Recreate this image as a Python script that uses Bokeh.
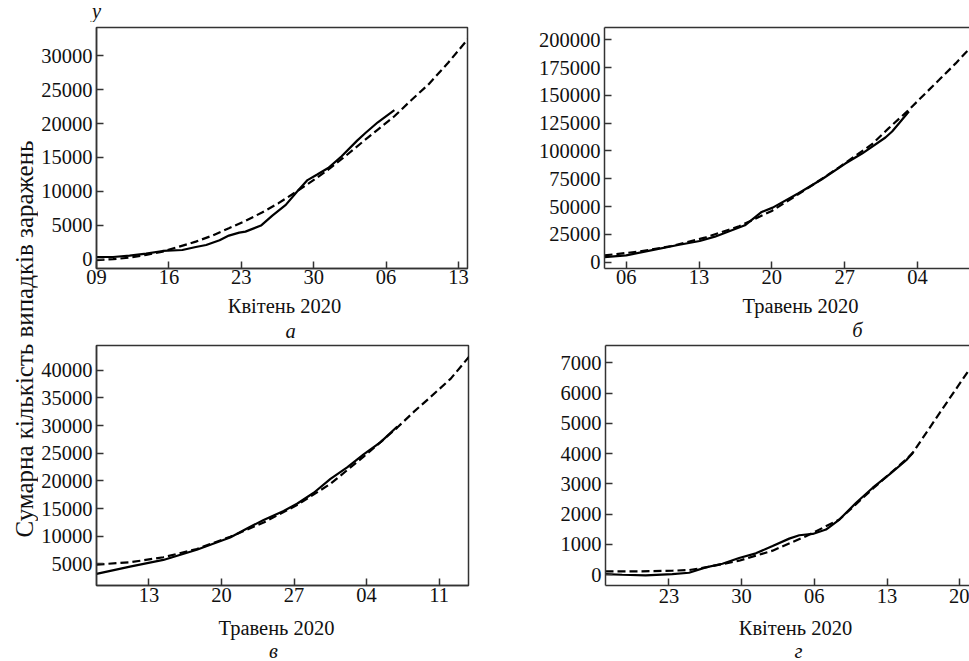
from math import pi
from bokeh.plotting import figure
from bokeh.models import Range1d, FixedTicker, LinearAxis, NumeralTickFormatter
from bokeh.layouts import row, column
from bokeh.embed import file_html
from bokeh.resources import INLINE
from bokeh.core.properties import value

FONT = "Liberation Serif"
INK = "#111111"
FRAME = "#333333"
FS = "20.5px"

# ---------------- data (day index within each panel, cumulative cases) -------------
# panel а : Квітень 2020
a_fact_day = [0, 1.6, 3.2, 4.8, 6.4, 8.3, 9.6, 10.6, 11.9, 12.8, 13.8, 14.4, 15.9, 17.0,
              18.3, 19.4, 20.4, 21.3, 22.4, 23.7, 25.2, 26.0, 27.2, 28.8]
a_fact_val = [300, 300, 490, 790, 1190, 1330, 1780, 2070, 2770, 3460, 3900, 4050, 4940, 6420,
              8000, 9980, 11660, 12450, 13440, 15170, 17490, 18620, 20200, 21980]
a_model_day = [0, 1.6, 3.2, 4.8, 6.4, 8.0, 9.6, 11.2, 12.8, 14.4, 16.0, 17.6, 19.2, 20.8,
               22.4, 24.0, 25.6, 27.2, 28.8, 30.4, 32.1, 34.0, 35.9]
a_model_val = [-150, -20, 200, 600, 1100, 1830, 2570, 3460, 4540, 5630, 6870, 8250, 9830, 11460,
               13190, 15120, 17140, 19120, 21090, 23420, 25790, 29000, 32460]
a_xticks = [0, 7, 14, 21, 28, 35]
a_xlabels = ["09", "16", "23", "30", "06", "13"]
a_yticks = [0, 5000, 10000, 15000, 20000, 25000, 30000]

# panel б : Травень 2020
b_fact_day = [-0.09, 2.0, 4.73, 6.98, 9.07, 10.52, 13.41, 15.02, 16.08, 18.56, 20.81, 23.06,
              24.67, 26.92, 27.56, 28.21, 29.17]
b_fact_val = [4510, 6010, 11120, 15330, 18930, 22840, 33060, 45080, 48980, 61900, 74520, 88650,
              97660, 112090, 117500, 124700, 135530]
b_model_day = [-0.09, 3.13, 6.34, 9.56, 12.77, 15.99, 19.2, 22.42, 25.63, 27.24, 29.17, 30.46,
               32.06, 33.67, 35.12]
b_model_val = [6010, 9320, 14420, 21940, 31850, 45980, 64910, 85040, 106080, 120500, 137030,
               149050, 163770, 178800, 193220]
b_xticks = [2, 9, 16, 23, 30]
b_xlabels = ["06", "13", "20", "27", "04"]
b_yticks = [0, 25000, 50000, 75000, 100000, 125000, 150000, 175000, 200000]

# panel в : Травень 2020
c_fact_day = [-0.06, 3.17, 6.39, 9.62, 12.84, 14.46, 16.07, 18.0, 19.29, 20.91, 22.52, 24.13,
              25.75, 27.36, 28.97]
c_fact_val = [3206, 4520, 5720, 7570, 9780, 11400, 12950, 14570, 15880, 17860, 20370, 22460,
              24850, 27010, 29820]
c_model_day = [-0.06, 3.17, 6.39, 9.62, 12.84, 16.07, 19.29, 22.52, 25.75, 28.97, 30.58, 32.2,
               34.13, 36.0]
c_model_val = [4880, 5300, 6200, 7690, 9900, 12480, 15640, 19470, 24430, 29640, 32510, 35200,
               38490, 42670]
c_xticks = [5, 12, 19, 26, 33]
c_xlabels = ["13", "20", "27", "04", "11"]
c_yticks = [5000, 10000, 15000, 20000, 25000, 30000, 35000, 40000]

# panel г : Квітень 2020
d_fact_day = [-0.1, 1.51, 3.76, 6.33, 7.94, 9.55, 11.15, 12.76, 14.37, 15.98, 17.58, 18.55,
              19.84, 21.12, 22.41, 24.02, 25.62, 27.23, 28.84, 29.48]
d_fact_val = [22, 0, -22, 22, 66, 243, 365, 553, 708, 951, 1194, 1305, 1349, 1493, 1825, 2378,
              2876, 3318, 3783, 4037]
d_model_day = [-0.1, 3.12, 6.33, 7.94, 9.55, 12.76, 15.98, 19.19, 22.41, 25.62, 28.84, 29.42,
               32.05, 33.66, 35.11]
d_model_val = [111, 111, 133, 155, 243, 465, 796, 1272, 1825, 2842, 3816, 4004, 5342, 6150, 6880]
d_xticks = [6, 13, 20, 27, 34]
d_xlabels = ["23", "30", "06", "13", "20"]
d_yticks = [0, 1000, 2000, 3000, 4000, 5000, 6000, 7000]

Y_TITLE = "Сумарна кількість випадків заражень"
MONTH_APR = "Квітень 2020"
MONTH_MAY = "Травень 2020"


def panel(width, height, xr, yr, borders, fact, model, xticks, xlabels, yticks,
          open_right, standoff):
    p = figure(width=width, height=height, x_range=Range1d(*xr), y_range=Range1d(*yr),
               output_backend="svg", toolbar_location=None,
               min_border_left=borders[0], min_border_right=borders[1],
               min_border_top=borders[2], min_border_bottom=borders[3])
    p.background_fill_color = "white"
    p.border_fill_color = "white"
    p.grid.visible = False
    xax = p.below[0]
    yax = p.left[0]
    for ax in (xax, yax):
        ax.axis_line_color = FRAME
        ax.axis_line_width = 1.5
        ax.major_tick_line_color = FRAME
        ax.major_tick_line_width = 1.5
        ax.major_tick_in = 7
        ax.major_tick_out = 0
        ax.minor_tick_line_color = None
        ax.minor_tick_out = 0
        ax.major_label_text_font = FONT
        ax.major_label_text_font_size = FS
        ax.major_label_text_color = INK
    xax.ticker = FixedTicker(ticks=xticks)
    xax.major_label_overrides = {t: l for t, l in zip(xticks, xlabels)}
    xax.major_label_standoff = standoff
    yax.ticker = FixedTicker(ticks=yticks)
    yax.formatter = NumeralTickFormatter(format="0")
    yax.major_label_standoff = 4
    if open_right:
        p.outline_line_color = None
        top = LinearAxis(ticker=FixedTicker(ticks=[]), major_label_text_font_size="0px",
                         axis_line_color=FRAME, axis_line_width=1.5,
                         major_tick_line_color=None, minor_tick_line_color=None,
                         major_tick_out=0, minor_tick_out=0, major_tick_in=0,
                         minor_tick_in=0, major_label_standoff=0)
        p.add_layout(top, "above")
    else:
        p.outline_line_color = FRAME
        p.outline_line_width = 1.5

    p.line(model[0], model[1], line_color="black", line_width=2.2, line_dash="8 4")
    p.line(fact[0], fact[1], line_color="black", line_width=2.2)
    return p


def strip(width, height, xs, ys, texts, italics):
    s = figure(width=width, height=height, x_range=Range1d(0, width),
               y_range=Range1d(height, 0), output_backend="svg", toolbar_location=None,
               min_border=0, x_axis_location=None, y_axis_location=None)
    s.grid.visible = False
    s.outline_line_color = None
    s.background_fill_color = "white"
    s.border_fill_color = "white"
    for x, y, t, it in zip(xs, ys, texts, italics):
        s.text(x=[x], y=[y], text=[t], text_align="center", text_baseline="middle",
               text_font=value(FONT), text_font_size=FS, text_color=INK,
               text_font_style="italic" if it else "normal")
    return s


pa = panel(442, 274, (0, 35.87), (-1400, 34200), (56, 13, 5, 28),
           (a_fact_day, a_fact_val), (a_model_day, a_model_val),
           a_xticks, a_xlabels, a_yticks, False, 1)
pb = panel(489, 274, (-0.09, 35.0), (-5800, 211100), (124, 0, 5, 28),
           (b_fact_day, b_fact_val), (b_model_day, b_model_val),
           b_xticks, b_xlabels, b_yticks, True, 1)
pc = panel(442, 272, (-0.06, 35.84), (1100, 44470), (58, 12, 4, 26),
           (c_fact_day, c_fact_val), (c_model_day, c_model_val),
           c_xticks, c_xlabels, c_yticks, False, 2)
pd_ = panel(489, 272, (-0.1, 34.93), (-355, 7575), (125, 0, 5, 27),
            (d_fact_day, d_fact_val), (d_model_day, d_model_val),
            d_xticks, d_xlabels, d_yticks, True, 3)

# strips hold the texts that sit outside the plot frames (positions in strip pixels)
s_top = strip(931, 22, [58], [10], ["y"], [True])
s_mid = strip(931, 44, [246, 762, 252, 819], [9, 9, 34, 33],
              [MONTH_APR, MONTH_MAY, "а", "б"], [False, False, True, True])
s_bot = strip(931, 49, [238, 757, 235, 760], [15, 15, 38, 38],
              [MONTH_MAY, MONTH_APR, "в", "г"], [False, False, True, True])

lab = figure(width=38, height=661, x_range=Range1d(0, 38), y_range=Range1d(661, 0),
             output_backend="svg", toolbar_location=None, min_border=0,
             x_axis_location=None, y_axis_location=None)
lab.grid.visible = False
lab.outline_line_color = None
lab.background_fill_color = "white"
lab.border_fill_color = "white"
lab.text(x=[24], y=[338.5], text=[Y_TITLE], angle=pi / 2, text_align="center",
         text_baseline="middle", text_font=value(FONT), text_font_size="25px",
         text_color=INK)

layout = row(lab, column(s_top, row(pa, pb), s_mid, row(pc, pd_), s_bot))

open("out.html", "w").write(file_html(layout, INLINE))
